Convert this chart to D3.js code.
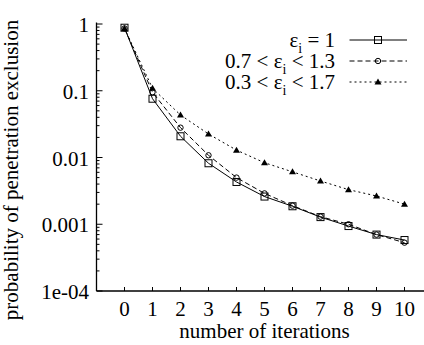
<!DOCTYPE html>
<html><head><meta charset="utf-8">
<script src="https://cdn.jsdelivr.net/npm/d3@7"></script>
<style>body{margin:0;background:#fff}svg{display:block}</style>
</head><body><div id="c"></div>
<script>
const iterations = [0,1,2,3,4,5,6,7,8,9,10];
const seriesUniform = [0.88,0.076,0.0208,0.0082,0.0043,0.0026,0.00186,0.00128,0.00094,0.0007,0.00058];
const seriesMid = [0.86,0.095,0.028,0.0108,0.0050,0.0029,0.0019,0.0013,0.0010,0.0007,0.00053];
const seriesWide = [0.86,0.109,0.0433,0.0225,0.0129,0.00835,0.0061,0.00445,0.0033,0.00265,0.0020];
const yTickValues = [1,0.1,0.01,0.001,1e-4];
const yTickLabels = ["1","0.1","0.01","0.001","1e-04"];
const xTickValues = [0,1,2,3,4,5,6,7,8,9,10];
const legendLabels = [["","= 1"],["0.7 < ","< 1.3"],["0.3 < ","< 1.7"]];

const W=424,H=345;
const FONT="'Liberation Serif', 'Times New Roman', Times, 'DejaVu Serif', serif";
const svg=d3.select("#c").append("svg").attr("width",W).attr("height",H)
  .attr("font-family",FONT).style("font-family",FONT);
const x=d3.scaleLinear().domain([-1,11]).range([96.5,432.5]);
const y=d3.scaleLog().domain([1e-4,1.05]).range([291,22.6]);
const FS=21;

svg.append("line").attr("x1",96.5).attr("x2",424).attr("y1",291).attr("y2",291).attr("stroke","#000").attr("stroke-width",1.3);
svg.append("line").attr("x1",96.5).attr("x2",96.5).attr("y1",y(1.05)).attr("y2",291).attr("stroke","#000").attr("stroke-width",1.3);

const minor=[];
for(let e=-4;e<0;e++){for(let m=2;m<=9;m++)minor.push(m*Math.pow(10,e));}
svg.selectAll(".ymin").data(minor).enter().append("line")
 .attr("x1",96.5).attr("x2",99.5).attr("y1",d=>y(d)).attr("y2",d=>y(d)).attr("stroke","#000");
svg.selectAll(".ymaj").data(yTickValues).enter().append("line")
 .attr("x1",96.5).attr("x2",102.5).attr("y1",d=>y(d)).attr("y2",d=>y(d)).attr("stroke","#000");
svg.selectAll(".ylab").data(yTickValues).enter().append("text")
 .attr("x",89).attr("y",d=>y(d)+8).attr("text-anchor","end").attr("font-size",FS)
 .text((d,i)=>yTickLabels[i]);

svg.selectAll(".xt").data(xTickValues).enter().append("line")
 .attr("x1",d=>x(d)).attr("x2",d=>x(d)).attr("y1",291).attr("y2",287).attr("stroke","#000");
svg.selectAll(".xl").data(xTickValues).enter().append("text")
 .attr("x",d=>x(d)).attr("y",316).attr("text-anchor","middle").attr("font-size",FS).text(d=>d);

svg.append("text").attr("x",x(5)).attr("y",338).attr("text-anchor","middle").attr("font-size",FS).text("number of iterations");
svg.append("text").attr("transform","translate(18,170) rotate(-90)").attr("text-anchor","middle").attr("font-size",FS).text("probability of penetration exclusion");

const dashes=[null,"5,3","2,3"];
const all=[seriesUniform,seriesMid,seriesWide];
const line=d3.line().x((d,i)=>x(iterations[i])).y(d=>y(d));

function marker(g,k,cx,cy){
  if(k===0) g.append("rect").attr("x",cx-3.5).attr("y",cy-3.5).attr("width",7).attr("height",7).attr("fill","none").attr("stroke","#000").attr("stroke-width",1);
  else if(k===1) g.append("circle").attr("cx",cx).attr("cy",cy).attr("r",2.7).attr("fill","none").attr("stroke","#000").attr("stroke-width",1);
  else g.append("path").attr("d",`M${cx},${cy-3.5}L${cx+3.5},${cy+2.5}L${cx-3.5},${cy+2.5}Z`).attr("fill","#000");
}

all.forEach((s,k)=>{
  const g=svg.append("g");
  g.append("path").attr("d",line(s)).attr("fill","none").attr("stroke","#000").attr("stroke-width",1)
   .attr("stroke-dasharray",dashes[k]);
  s.forEach((v,i)=>marker(g,k,x(iterations[i]),y(v)));
});

const ly=[40,61,82];
legendLabels.forEach((lab,k)=>{
  const t=svg.append("text").attr("x",335).attr("y",ly[k]+7).attr("text-anchor","end").attr("font-size",FS);
  t.append("tspan").text(lab[0]+"ε");
  t.append("tspan").attr("font-size",14).attr("dy",6).text("i");
  t.append("tspan").attr("dy",-6).text(" "+lab[1]);
  svg.append("line").attr("x1",349.5).attr("x2",407).attr("y1",ly[k]).attr("y2",ly[k]).attr("stroke","#000").attr("stroke-dasharray",dashes[k]);
  marker(svg,k,378,ly[k]);
});
</script></body></html>
